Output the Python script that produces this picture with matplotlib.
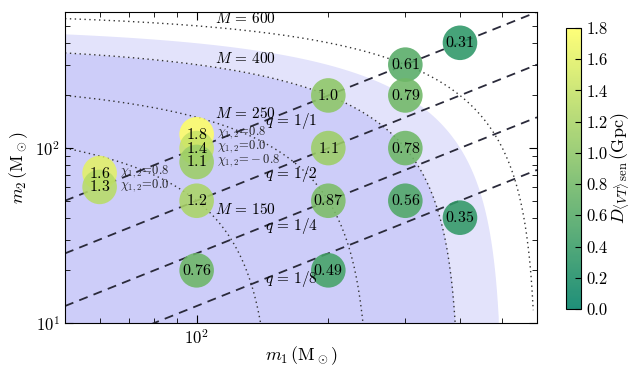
import numpy as np
import matplotlib
matplotlib.use('Agg')
from matplotlib import pyplot as plt
from matplotlib import ticker

plt.rcParams['font.family'] = 'serif'
plt.rcParams['font.serif'] = ['cmr10', 'DejaVu Serif']
plt.rcParams['mathtext.fontset'] = 'cm'
plt.rcParams['axes.formatter.use_mathtext'] = True

# simulated systems (m1, m2 in solar masses) and sensitive distance in Gpc
m1 = [400, 300, 200, 300, 200, 300, 200, 300, 400, 200, 100, 100, 100, 100, 100, 60, 60]
m2 = [400, 300, 200, 200, 100, 100, 50, 50, 40, 20, 20, 50, 120, 100, 83.3, 72, 60]
D = [0.31, 0.61, 1.0, 0.79, 1.1, 0.78, 0.87, 0.56, 0.35, 0.49, 0.76, 1.2, 1.8, 1.4, 1.1, 1.6, 1.3]

# spin labels for the stacked points
spin_m1 = [100, 100, 100, 60, 60]
spin_m2 = [120, 100, 83.3, 72, 60]
spin_chi = ['0.8', '0.0', '-0.8', '0.8', '0.0']

M_lines = [600, 400, 250, 150]
q_lines = [1, 2, 4, 8]
shade_M = [500, 400]
shade_col = ['#e3e3fb', '#cdcdf9']

fig = plt.figure(figsize=(6.34, 3.69), dpi=100)
ax = fig.add_axes([0.1025, 0.1247, 0.7445, 0.8428])
cax = fig.add_axes([0.893, 0.1626, 0.0237, 0.7615])

x = np.logspace(np.log10(50), np.log10(600), 500)

for M, col in zip(shade_M, shade_col):
    ok = (M - x) > 10
    ax.fill_between(x[ok], 10, M - x[ok], color=col, lw=0, zorder=0)

for M in M_lines:
    ok = (M - x) > 9
    ax.plot(x[ok], M - x[ok], color='#333333', lw=1, ls=(0, (1, 2.5)), zorder=1)
    ax.text(110, (M - 110) * 1.12, r'$M\,=\,%d$' % M, fontsize=11,
            ha='left', va='center', zorder=4)

for q in q_lines:
    ax.plot(x, x / q, color='#2a2a3a', lw=1.3, ls=(0, (5, 3.5)), zorder=2)
    ax.text(143, 143.0 / q, r'$q\,=\,1/%d$' % q, fontsize=11,
            ha='left', va='center', zorder=4)

sc = ax.scatter(m1, m2, c=D, cmap='summer', vmin=0, vmax=1.8, s=620,
                alpha=0.88, edgecolors='none', zorder=3)
for a, b, d in zip(m1, m2, D):
    lab = '%.1f' % d if d >= 1 else '%.2f' % d
    ax.text(a, b, r'$%s$' % lab, fontsize=11.5, ha='center', va='center', zorder=5)

for a, b, c in zip(spin_m1, spin_m2, spin_chi):
    ax.text(a * 1.115, b * 1.02, r'$\chi_{1,2}\!=\!%s$' % c,
            fontsize=9, ha='left', va='center', color='#222222', zorder=5)

ax.set_xscale('log')
ax.set_yscale('log')
ax.set_xlim(50, 600)
ax.set_ylim(10, 600)
ax.xaxis.set_minor_formatter(ticker.NullFormatter())
ax.yaxis.set_minor_formatter(ticker.NullFormatter())
ax.tick_params(which='both', direction='in', top=True, right=True, labelsize=12)
ax.tick_params(which='major', length=6)
ax.tick_params(which='minor', length=3.5)
ax.set_xlabel(r'$m_1\,(\mathrm{M}_\odot)$', fontsize=13, labelpad=-2)
ax.set_ylabel(r'$m_2\,(\mathrm{M}_\odot)$', fontsize=13)

cb = fig.colorbar(sc, cax=cax, ticks=np.arange(0, 1.81, 0.2))
cb.ax.tick_params(direction='in', labelsize=12, length=4)
cb.ax.yaxis.set_major_formatter(ticker.FormatStrFormatter('%.1f'))
cb.set_label(r'$D_{\langle VT\rangle\,\mathrm{sen}}\,(\mathrm{Gpc})$', fontsize=13, labelpad=1)

fig.savefig('out.png', dpi=100)
